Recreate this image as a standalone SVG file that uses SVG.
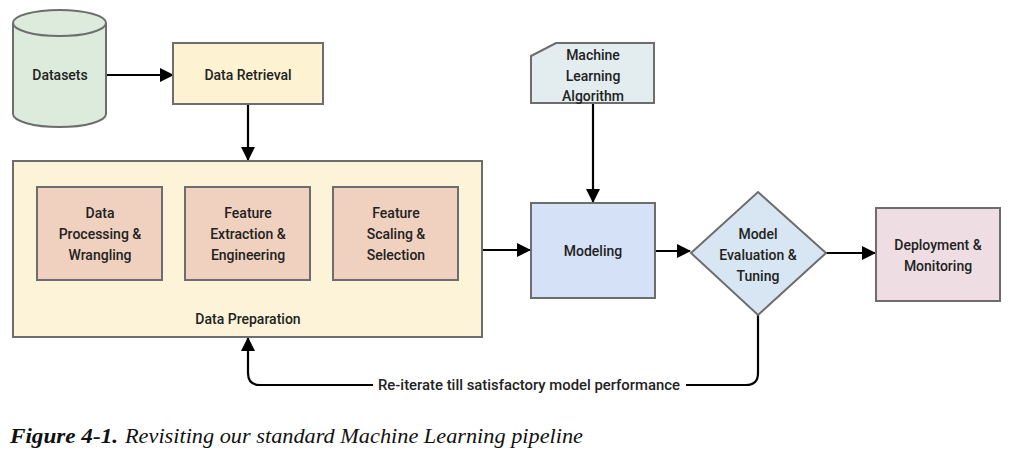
<svg xmlns="http://www.w3.org/2000/svg" width="1013" height="463" viewBox="0 0 1013 463">
<defs>
<style>
.n{stroke:#6d6d6d;stroke-width:2}
.t{font-family:Roboto,"Liberation Sans",sans-serif;font-size:14px;font-weight:500;fill:#222;text-anchor:middle}
.c{stroke:#000;stroke-width:2.2;fill:none}
.cap{font-family:"Liberation Serif",serif;font-style:italic;font-size:20px;fill:#111}
</style>
<marker id="ah" markerWidth="14" markerHeight="14" refX="13" refY="7" orient="auto" markerUnits="userSpaceOnUse">
<path d="M0,0 L14,7 L0,14 Z" fill="#000"/>
</marker>
</defs>
<rect width="1013" height="463" fill="#fff"/>
<g id="connectors">
<line class="c" x1="106" y1="75" x2="173" y2="75" marker-end="url(#ah)"/>
<line class="c" x1="248" y1="104" x2="248" y2="160" marker-end="url(#ah)"/>
<line class="c" x1="482" y1="250" x2="530" y2="250" marker-end="url(#ah)"/>
<line class="c" x1="593" y1="103" x2="593" y2="202" marker-end="url(#ah)"/>
<line class="c" x1="655" y1="251" x2="690" y2="251" marker-end="url(#ah)"/>
<line class="c" x1="826" y1="253" x2="875" y2="253" marker-end="url(#ah)"/>
<path class="c" d="M758,315 L758,373 Q758,385 746,385 L686,385 M373,385 L260,385 Q248,385 248,373 L248,338" marker-end="url(#ah)"/>
</g>
<g id="datasets">
<path class="n" d="M13,23 L13,114 A46.5,13 0 0 0 106,114 L106,23" fill="#dcebdb"/>
<ellipse class="n" cx="59.5" cy="23" rx="46.5" ry="13" fill="#dcebdb"/>
<text class="t" x="60" y="80">Datasets</text>
</g>
<g id="data-retrieval">
<rect class="n" x="173" y="43" width="150" height="61" fill="#fdf2d2"/>
<text class="t" x="248" y="80">Data Retrieval</text>
</g>
<g id="data-preparation">
<rect class="n" x="13" y="161" width="469" height="176" fill="#fdf3d8"/>
<text class="t" x="248" y="324">Data Preparation</text>
</g>
<g id="data-processing">
<rect class="n" x="37" y="187" width="125" height="93" fill="#f0d0bf"/>
<text class="t" x="100" y="218">Data</text>
<text class="t" x="100" y="239">Processing &amp;</text>
<text class="t" x="100" y="260">Wrangling</text>
</g>
<g id="feature-extraction">
<rect class="n" x="185" y="187" width="125" height="93" fill="#f0d0bf"/>
<text class="t" x="248" y="218">Feature</text>
<text class="t" x="248" y="239">Extraction &amp;</text>
<text class="t" x="248" y="260">Engineering</text>
</g>
<g id="feature-scaling">
<rect class="n" x="333" y="187" width="125" height="93" fill="#f0d0bf"/>
<text class="t" x="396" y="218">Feature</text>
<text class="t" x="396" y="239">Scaling &amp;</text>
<text class="t" x="396" y="260">Selection</text>
</g>
<g id="ml-algorithm">
<path class="n" d="M531,56 L556,43 L654,43 L654,103 L531,103 Z" fill="#e3edf0"/>
<text class="t" x="593" y="60">Machine</text>
<text class="t" x="593" y="81">Learning</text>
<text class="t" x="593" y="101">Algorithm</text>
</g>
<g id="modeling">
<rect class="n" x="531" y="203" width="124" height="95" fill="#d5e1f6"/>
<text class="t" x="593" y="256">Modeling</text>
</g>
<g id="evaluation">
<path class="n" d="M758,192 L826,253 L758,315 L691,253 Z" fill="#d7e6f2"/>
<text class="t" x="758" y="239">Model</text>
<text class="t" x="758" y="260">Evaluation &amp;</text>
<text class="t" x="758" y="281">Tuning</text>
</g>
<g id="deployment">
<rect class="n" x="876" y="208" width="124" height="93" fill="#eedde3"/>
<text class="t" x="938" y="250">Deployment &amp;</text>
<text class="t" x="938" y="271">Monitoring</text>
</g>
<text class="t" x="529" y="390" textLength="302" lengthAdjust="spacingAndGlyphs">Re-iterate till satisfactory model performance</text>
<text class="cap" x="10" y="443" font-weight="bold" textLength="108" lengthAdjust="spacingAndGlyphs">Figure 4-1.</text>
<text class="cap" x="125" y="443" textLength="458" lengthAdjust="spacingAndGlyphs">Revisiting our standard Machine Learning pipeline</text>
</svg>
